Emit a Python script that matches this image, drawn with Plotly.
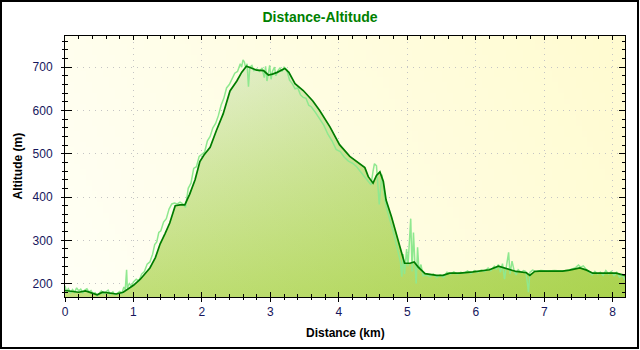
import base64
import struct
import zlib

import plotly.graph_objects as go

# ---- data -------------------------------------------------------------
# smoothed elevation profile (km, m)
SMOOTH_KM = [0.00, 0.10, 0.20, 0.30, 0.40, 0.47, 0.55, 0.65, 0.75, 0.85,
             0.95, 1.00, 1.10, 1.24, 1.32, 1.39, 1.46, 1.53, 1.61, 1.68,
             1.75, 1.82, 1.90, 1.97, 2.03, 2.12, 2.21, 2.31, 2.41, 2.51,
             2.58, 2.65, 2.72, 2.80, 2.90, 2.97, 3.03, 3.10, 3.21, 3.27,
             3.36, 3.48, 3.62, 3.72, 3.87, 4.01, 4.16, 4.31, 4.38, 4.43,
             4.50, 4.55, 4.60, 4.65, 4.69, 4.77, 4.84, 4.91, 4.96, 5.04,
             5.10, 5.16, 5.26, 5.43, 5.52, 5.62, 5.77, 5.96, 6.20, 6.33,
             6.45, 6.59, 6.74, 6.79, 6.86, 6.93, 7.27, 7.37, 7.52, 7.62,
             7.71, 7.91, 8.05, 8.18]
SMOOTH_ALT = [184, 182, 180, 183, 178, 174, 180, 178, 176, 180,
              190, 196, 210, 236, 260, 292, 315, 340, 380, 382,
              382, 406, 440, 482, 497, 515, 553, 592, 645, 668,
              688, 702, 698, 693, 692, 682, 684, 688, 697, 688,
              662, 646, 622, 600, 562, 521, 494, 477, 468, 447,
              432, 450, 458, 436, 393, 354, 315, 277, 247, 247,
              250, 238, 223, 219, 219, 224, 224, 227, 232, 240,
              235, 228, 225, 219, 228, 229, 229, 231, 236, 231,
              224, 225, 224, 219]

# raw GPS elevation samples (km, m)
RAW_KM = [0.00, 0.02, 0.05, 0.08, 0.11, 0.14, 0.17, 0.20, 0.23, 0.26,
          0.29, 0.32, 0.35, 0.38, 0.41, 0.44, 0.47, 0.50, 0.53, 0.56,
          0.60, 0.63, 0.66, 0.70, 0.73, 0.76, 0.80, 0.83, 0.86, 0.88,
          0.90, 0.91, 0.94, 0.97, 1.00, 1.04, 1.08, 1.12, 1.16, 1.20,
          1.24, 1.28, 1.31, 1.34, 1.37, 1.40, 1.44, 1.48, 1.52, 1.56,
          1.60, 1.64, 1.68, 1.72, 1.76, 1.80, 1.84, 1.88, 1.92, 1.96,
          2.00, 2.04, 2.08, 2.12, 2.16, 2.20, 2.24, 2.28, 2.32, 2.36,
          2.40, 2.44, 2.48, 2.52, 2.56, 2.58, 2.60, 2.62, 2.64, 2.66,
          2.68, 2.70, 2.73, 2.76, 2.80, 2.84, 2.88, 2.91, 2.93, 2.95,
          2.97, 2.99, 3.01, 3.03, 3.06, 3.08, 3.11, 3.14, 3.17, 3.20,
          3.24, 3.28, 3.32, 3.36, 3.40, 3.44, 3.48, 3.52, 3.56, 3.60,
          3.66, 3.72, 3.78, 3.84, 3.90, 3.96, 4.02, 4.08, 4.14, 4.20,
          4.26, 4.32, 4.38, 4.42, 4.47, 4.50, 4.52, 4.55, 4.57, 4.59,
          4.61, 4.63, 4.66, 4.70, 4.75, 4.80, 4.84, 4.87, 4.90, 4.92,
          4.94, 4.96, 4.99, 5.01, 5.03, 5.05, 5.07, 5.09, 5.11, 5.13,
          5.15, 5.17, 5.20, 5.23, 5.28, 5.33, 5.38, 5.43, 5.48, 5.53,
          5.58, 5.63, 5.68, 5.73, 5.78, 5.83, 5.88, 5.93, 5.98, 6.03,
          6.08, 6.13, 6.18, 6.22, 6.27, 6.30, 6.33, 6.36, 6.39, 6.42,
          6.45, 6.48, 6.50, 6.53, 6.56, 6.59, 6.62, 6.66, 6.70, 6.73,
          6.75, 6.77, 6.79, 6.83, 6.88, 6.95, 7.05, 7.15, 7.25, 7.35,
          7.45, 7.50, 7.53, 7.57, 7.62, 7.66, 7.70, 7.74, 7.78, 7.82,
          7.86, 7.90, 7.94, 7.98, 8.02, 8.06, 8.10, 8.14, 8.18]
RAW_ALT = [195, 182, 188, 178, 186, 180, 190, 183, 187, 179,
           185, 188, 181, 184, 176, 179, 172, 178, 183, 176,
           180, 185, 175, 181, 174, 178, 182, 177, 192, 186,
           232, 190, 200, 194, 204, 210, 206, 222, 228, 245,
           250, 268, 290, 296, 318, 322, 342, 350, 372, 384,
           386, 384, 388, 384, 376, 420, 432, 466, 470, 494,
           500, 504, 530, 540, 560, 570, 588, 612, 628, 652,
           660, 672, 686, 690, 708, 700, 717, 712, 698, 708,
           655, 700, 704, 692, 696, 690, 698, 676, 702, 668,
           690, 704, 672, 690, 700, 680, 692, 698, 690, 700,
           694, 670, 662, 650, 652, 636, 630, 628, 612, 608,
           595, 580, 566, 545, 530, 510, 505, 492, 483, 478,
           470, 458, 446, 440, 428, 460, 477, 472, 430, 383,
           420, 452, 408, 372, 345, 318, 290, 270, 250, 216,
           268, 222, 280, 240, 306, 350, 228, 318, 250, 200,
           284, 232, 244, 218, 220, 216, 222, 214, 220, 214,
           226, 222, 227, 222, 226, 224, 229, 223, 230, 226,
           231, 228, 236, 230, 240, 232, 244, 226, 246, 210,
           242, 272, 222, 252, 230, 220, 232, 226, 230, 228,
           206, 180, 226, 231, 228, 230, 229, 230, 229, 231,
           236, 243, 238, 241, 232, 226, 220, 228, 222, 226,
           219, 230, 222, 228, 218, 226, 215, 220, 208]

X_RANGE = [0, 8.18]
Y_RANGE = [169, 772]
X_TICKS = [0, 1, 2, 3, 4, 5, 6, 7, 8]
Y_TICKS = [200, 300, 400, 500, 600, 700]

# ---- styles -----------------------------------------------------------
W, H = 640, 350
M_L, M_R, M_T, M_B = 65, 15, 36, 53
FONT = "Liberation Sans, Arial, sans-serif"
TICK_COLOR = "#16165c"
GRID_COLOR = "#c4c4c4"
GRID_DASH = "1px,5px"
LINE_DARK = "#007c00"
LINE_RAW = "#8fe88f"


def png_data_uri(w, h, pixel):
    """Encode an RGB image given by pixel(x, y) -> (r, g, b) as a PNG data URI."""
    rows = b"".join(
        b"\x00" + bytes(c for x in range(w) for c in pixel(x, y)) for y in range(h)
    )

    def chunk(tag, data):
        body = tag + data
        return (struct.pack(">I", len(data)) + body
                + struct.pack(">I", zlib.crc32(body) & 0xFFFFFFFF))

    png = (b"\x89PNG\r\n\x1a\n"
           + chunk(b"IHDR", struct.pack(">IIBBBBB", w, h, 8, 2, 0, 0, 0))
           + chunk(b"IDAT", zlib.compress(rows))
           + chunk(b"IEND", b""))
    return "data:image/png;base64," + base64.b64encode(png).decode()


# soft cream -> pale yellow backdrop for the plotting area
BG_FROM = (255, 255, 245)
BG_TO = (255, 251, 208)


def bg_pixel(x, y, w=96, h=48):
    t = 0.8 * x / (w - 1) + 0.2 * (1 - y / (h - 1))
    return tuple(int(round(a + (b - a) * t)) for a, b in zip(BG_FROM, BG_TO))


BG_URI = png_data_uri(96, 48, bg_pixel)

fig = go.Figure()

# filled terrain: vertical light-to-green gradient
fig.add_trace(go.Scatter(
    x=SMOOTH_KM, y=SMOOTH_ALT, mode="lines", line=dict(width=0),
    fill="tozeroy",
    fillgradient=dict(type="vertical", start=170, stop=720,
                      colorscale=[[0, "#c3e07c"], [0.55, "#dcecb6"], [1, "#f4f7ec"]]),
    hoverinfo="skip", showlegend=False,
))
# extra greening towards the far end of the route
fig.add_trace(go.Scatter(
    x=SMOOTH_KM, y=SMOOTH_ALT, mode="lines", line=dict(width=0),
    fill="tozeroy",
    fillgradient=dict(type="horizontal", start=0, stop=8.18,
                      colorscale=[[0, "rgba(150,200,40,0)"], [1, "rgba(150,200,40,0.55)"]]),
    hoverinfo="skip", showlegend=False,
))
# raw samples
fig.add_trace(go.Scatter(
    x=RAW_KM, y=RAW_ALT, mode="lines",
    line=dict(color=LINE_RAW, width=1.5),
    hoverinfo="skip", showlegend=False,
))
# smoothed profile
fig.add_trace(go.Scatter(
    x=SMOOTH_KM, y=SMOOTH_ALT, mode="lines",
    line=dict(color=LINE_DARK, width=1.7),
    hoverinfo="skip", showlegend=False,
))
# carriers for the inner tick axes
fig.add_trace(go.Scatter(x=[], y=[], xaxis="x2", yaxis="y2", showlegend=False))
fig.add_trace(go.Scatter(x=[], y=[], xaxis="x3", yaxis="y3", showlegend=False))

tick_font = dict(family=FONT, size=12, color=TICK_COLOR)
inner = dict(showticklabels=False, showgrid=False, zeroline=False,
             showline=False, tickcolor="black", tickwidth=1, fixedrange=True)

fig.update_layout(
    width=W, height=H,
    margin=dict(l=M_L, r=M_R, t=M_T, b=M_B, pad=0),
    paper_bgcolor="white",
    plot_bgcolor="#fffde6",
    title=dict(text="Distance-Altitude", x=0.5, xref="container", xanchor="center",
               y=1 - 17 / H, yref="container", yanchor="middle",
               font=dict(family=FONT, size=14, color="#008000", weight="bold")),
    xaxis=dict(range=X_RANGE, tickvals=X_TICKS, ticktext=[str(v) for v in X_TICKS],
               ticks="outside", ticklen=4, tickwidth=1, tickcolor="black",
               tickfont=tick_font, showline=True, linecolor="black", linewidth=1,
               mirror=True, showgrid=True, gridcolor=GRID_COLOR, gridwidth=1,
               griddash=GRID_DASH, zeroline=False, fixedrange=True,
               minor=dict(dtick=0.2, tick0=0, ticks="outside", ticklen=2,
                          tickcolor="black", showgrid=False)),
    yaxis=dict(range=Y_RANGE, tickvals=Y_TICKS, ticktext=[str(v) for v in Y_TICKS],
               ticks="outside", ticklen=3, tickwidth=1, tickcolor="black",
               tickfont=tick_font, ticklabelstandoff=6,
               showline=True, linecolor="black", linewidth=1,
               mirror=True, showgrid=True, gridcolor=GRID_COLOR, gridwidth=1,
               griddash=GRID_DASH, zeroline=False, fixedrange=True,
               minor=dict(dtick=20, tick0=0, ticks="outside", ticklen=2,
                          tickcolor="black", showgrid=False)),
    xaxis2=dict(overlaying="x", anchor="y", side="bottom", range=X_RANGE,
                tickvals=X_TICKS, ticks="inside", ticklen=5,
                minor=dict(dtick=0.2, tick0=0, ticks="inside", ticklen=3,
                           tickcolor="black", showgrid=False), **inner),
    xaxis3=dict(overlaying="x", anchor="y", side="top", range=X_RANGE,
                tickvals=X_TICKS, ticks="inside", ticklen=4,
                minor=dict(dtick=0.2, tick0=0, ticks="inside", ticklen=3,
                           tickcolor="black", showgrid=False), **inner),
    yaxis2=dict(overlaying="y", anchor="x", side="left", range=Y_RANGE,
                tickvals=Y_TICKS, ticks="inside", ticklen=7,
                minor=dict(dtick=20, tick0=0, ticks="inside", ticklen=3,
                           tickcolor="black", showgrid=False), **inner),
    yaxis3=dict(overlaying="y", anchor="x", side="right", range=Y_RANGE,
                tickvals=Y_TICKS, ticks="inside", ticklen=6,
                minor=dict(dtick=20, tick0=0, ticks="inside", ticklen=3,
                           tickcolor="black", showgrid=False), **inner),
    images=[dict(source=BG_URI, xref="x", yref="y",
                 x=X_RANGE[0], y=Y_RANGE[1],
                 sizex=X_RANGE[1] - X_RANGE[0], sizey=Y_RANGE[1] - Y_RANGE[0],
                 xanchor="left", yanchor="top", sizing="stretch", layer="below")],
)

# axis titles
PW, PH = W - M_L - M_R, H - M_T - M_B


def px_x(px):
    return (px - M_L) / PW


def px_y(py):
    return (H - M_B - py) / PH


title_font = dict(family=FONT, size=12, color="black", weight="bold")
fig.add_annotation(text="Distance (km)", xref="paper", yref="paper",
                   x=0.5, y=px_y(333), xanchor="center", yanchor="middle",
                   showarrow=False, font=title_font)
fig.add_annotation(text="Altitude (m)", xref="paper", yref="paper",
                   x=px_x(17), y=0.5, xanchor="center", yanchor="middle",
                   textangle=-90, showarrow=False, font=title_font)

# outer frame of the whole chart
fig.add_shape(type="rect", xref="paper", yref="paper",
              x0=px_x(1), x1=px_x(638), y0=px_y(348), y1=px_y(1),
              line=dict(color="black", width=2), layer="above")

fig.write_html("out.html")
